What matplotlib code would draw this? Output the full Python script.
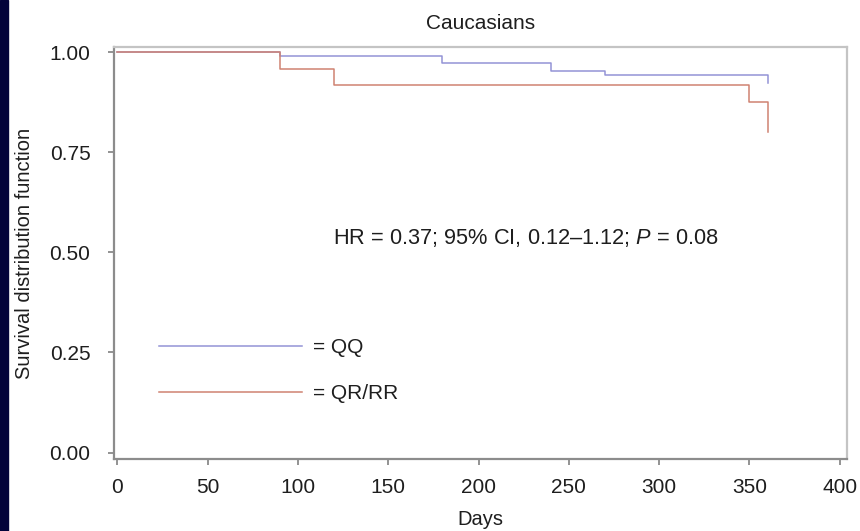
import matplotlib
matplotlib.use("Agg")
import matplotlib.pyplot as plt
from matplotlib.patches import Rectangle

plt.rcParams['font.family'] = ['Liberation Sans', 'DejaVu Sans']
plt.rcParams['mathtext.fontset'] = 'custom'
plt.rcParams['mathtext.it'] = 'Liberation Sans:italic'
plt.rcParams['mathtext.rm'] = 'Liberation Sans'

# данные кривых Каплана-Мейера (дни, доля выживших)
qq_days = [0, 90, 180, 240, 270, 360]
qq_surv = [1.0, 0.991, 0.974, 0.952, 0.942, 0.924]
qr_days = [0, 90, 120, 350, 360]
qr_surv = [1.0, 0.958, 0.917, 0.875, 0.80]

x_ticks = [0, 50, 100, 150, 200, 250, 300, 350, 400]
y_ticks = [0.0, 0.25, 0.5, 0.75, 1.0]

text_color = '#1e1e1e'

fig = plt.figure(figsize=(8.6, 5.31), dpi=100)
fig.patches.append(Rectangle((0, 0), 8 / 860, 1, transform=fig.transFigure,
                             color='#02023a', zorder=0))
ax = fig.add_axes([114 / 860, 1 - 459 / 531, 733 / 860, 412 / 531])

ax.step(qq_days, qq_surv, where='post', color='#9393d6', linewidth=1.1, label='= QQ')
ax.step(qr_days, qr_surv, where='post', color='#cf8272', linewidth=1.1, label='= QR/RR')

ax.set_xlim(-1.8, 404)
ax.set_ylim(-0.016, 1.013)
ax.set_xticks(x_ticks)
ax.set_yticks(y_ticks)
ax.set_yticklabels(["%.2f" % v for v in y_ticks])
ax.tick_params(labelsize=15, length=4, color='#808080', width=1.2, labelcolor=text_color)
ax.tick_params(axis='x', pad=10)
ax.tick_params(axis='y', pad=13)

for side in ['left', 'bottom']:
    ax.spines[side].set_color('#8c8c8c')
    ax.spines[side].set_linewidth(1.6)
for side in ['top', 'right']:
    ax.spines[side].set_color('#c4c4c4')
    ax.spines[side].set_linewidth(1.6)

ax.set_title("Caucasians", fontsize=15, pad=13, color=text_color)
ax.set_xlabel("Days", fontsize=14.5, labelpad=9, color=text_color)
ax.set_ylabel("Survival distribution function", fontsize=14.5, labelpad=11, color=text_color)

ax.text(119.5, 0.536, r"HR = 0.37; 95% CI, 0.12–1.12; $\mathit{P}$ = 0.08",
        fontsize=15.7, va='center', ha='left', color=text_color)

leg = ax.legend(loc='upper left', bbox_to_anchor=(0.061, 0.294), frameon=False,
                fontsize=15, handlelength=6.9, handletextpad=0.5, labelspacing=1.3,
                borderpad=0, borderaxespad=0)
for t in leg.get_texts():
    t.set_color(text_color)

plt.savefig("out.png", dpi=100)
